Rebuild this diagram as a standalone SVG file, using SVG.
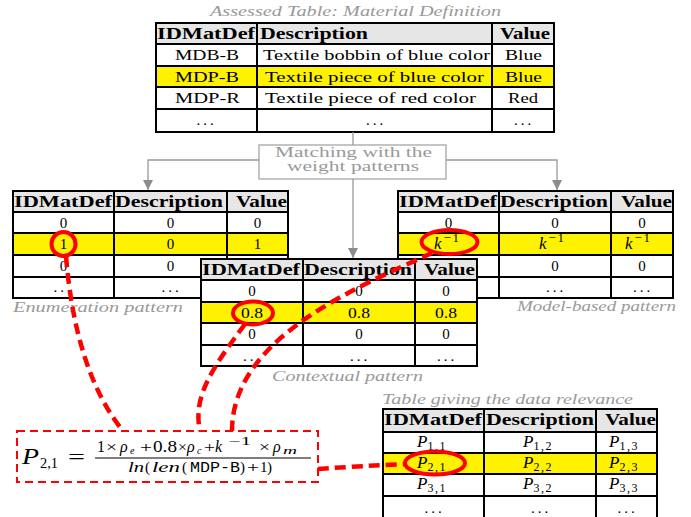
<svg xmlns="http://www.w3.org/2000/svg" width="691" height="517" viewBox="0 0 691 517" font-family="'Liberation Serif', serif" font-size="15">
<defs>
<style>
text{fill:#000}
.b{font-weight:bold;font-size:16px}
.m{text-anchor:middle}
.e{text-anchor:end}
.i{font-style:italic}
.lab{font-style:italic;fill:#999}
.gt{fill:#999;font-size:14px}
.bg{fill:#fff}
.hd{fill:#e6e6e6}
.yl{fill:#fff200}
.grid{stroke:#000;stroke-width:2;fill:none}
.gl{stroke:#999;stroke-width:1.3;fill:none}
.red{stroke:#f00;stroke-width:4.5;stroke-dasharray:11 6;fill:none}
.rc{stroke:#f00;stroke-width:4;fill:none}
.mono{font-family:"Liberation Mono",monospace;font-size:14px}
.sub{font-size:10px}
</style>
<marker id="ah" viewBox="0 0 10 10" refX="10" refY="5" markerWidth="10" markerHeight="10" markerUnits="userSpaceOnUse" orient="auto"><path d="M0,0 L10,5 L0,10 z" fill="#8c8c8c"/></marker>
</defs>
<rect width="691" height="517" fill="#fff"/>

<g id="assessed-table">
<text class="lab" x="210" y="16" textLength="291" lengthAdjust="spacingAndGlyphs">Assessed Table: Material Definition</text>
<rect class="bg" x="156" y="23" width="398" height="109"/>
<rect class="hd" x="156" y="23" width="398" height="21"/>
<rect class="yl" x="156" y="66" width="398" height="21"/>
<path class="grid" d="M156,23H554V132H156Z M156,44H554 M156,66H554 M156,87H554 M156,109H554 M257,23V132 M492,23V132"/>
<text class="b" x="157" y="39" textLength="98" lengthAdjust="spacingAndGlyphs">IDMatDef</text>
<text class="b" x="260" y="39" textLength="108" lengthAdjust="spacingAndGlyphs">Description</text>
<text class="b" x="500" y="39" textLength="50" lengthAdjust="spacingAndGlyphs">Value</text>
<text x="175" y="60" textLength="64" lengthAdjust="spacingAndGlyphs">MDB-B</text>
<text x="263" y="60" textLength="227" lengthAdjust="spacingAndGlyphs">Textile bobbin of blue color</text>
<text x="505" y="60" textLength="37" lengthAdjust="spacingAndGlyphs">Blue</text>
<text x="175" y="82" textLength="64" lengthAdjust="spacingAndGlyphs">MDP-B</text>
<text x="265" y="82" textLength="219" lengthAdjust="spacingAndGlyphs">Textile piece of blue color</text>
<text x="505" y="82" textLength="37" lengthAdjust="spacingAndGlyphs">Blue</text>
<text x="175" y="103" textLength="65" lengthAdjust="spacingAndGlyphs">MDP-R</text>
<text x="265" y="103" textLength="211" lengthAdjust="spacingAndGlyphs">Textile piece of red color</text>
<text x="508" y="103" textLength="30" lengthAdjust="spacingAndGlyphs">Red</text>
<text class="m" x="206.5" y="125" letter-spacing="3">...</text>
<text class="m" x="376" y="125" letter-spacing="3">...</text>
<text class="m" x="524" y="125" letter-spacing="3">...</text>
</g>

<g id="matching">
<rect x="259" y="145" width="187" height="34" fill="#fff" stroke="#a6a6a6" stroke-width="1.3"/>
<text class="gt" x="275" y="157" textLength="157" lengthAdjust="spacingAndGlyphs">Matching with the</text>
<text class="gt" x="287" y="171" textLength="132" lengthAdjust="spacingAndGlyphs">weight patterns</text>
</g>

<g id="enumeration-pattern">
<rect class="bg" x="13" y="191" width="275" height="107"/>
<rect class="hd" x="13" y="191" width="275" height="21"/>
<rect class="yl" x="13" y="233" width="275" height="22"/>
<path class="grid" d="M13,191H288V298H13Z M13,212H288 M13,233H288 M13,255H288 M13,277H288 M114,191V298 M227,191V298"/>
<text class="b" x="14" y="207" textLength="98" lengthAdjust="spacingAndGlyphs">IDMatDef</text>
<text class="b" x="115" y="207" textLength="108" lengthAdjust="spacingAndGlyphs">Description</text>
<text class="b e" x="287" y="207" textLength="51" lengthAdjust="spacingAndGlyphs">Value</text>
<text class="m" x="63.5" y="228">0</text><text class="m" x="170.5" y="228">0</text><text class="m" x="257.5" y="228">0</text>
<text class="m" x="63.5" y="249">1</text><text class="m" x="170.5" y="249">0</text><text class="m" x="257.5" y="249">1</text>
<text class="m" x="63.5" y="271">0</text><text class="m" x="170.5" y="271">0</text>
<text class="m" x="63.5" y="292" letter-spacing="3">...</text><text class="m" x="171.5" y="292" letter-spacing="3">...</text>
<text class="lab" x="13" y="312" textLength="170" lengthAdjust="spacingAndGlyphs">Enumeration pattern</text>
</g>

<g id="model-based-pattern">
<rect class="bg" x="398" y="191" width="275" height="107"/>
<rect class="hd" x="398" y="191" width="275" height="21"/>
<rect class="yl" x="398" y="233" width="275" height="22"/>
<path class="grid" d="M398,191H673V298H398Z M398,212H673 M398,233H673 M398,255H673 M398,277H673 M499,191V298 M611,191V298"/>
<text class="b" x="399" y="207" textLength="98" lengthAdjust="spacingAndGlyphs">IDMatDef</text>
<text class="b" x="500" y="207" textLength="108" lengthAdjust="spacingAndGlyphs">Description</text>
<text class="b e" x="672" y="207" textLength="51" lengthAdjust="spacingAndGlyphs">Value</text>
<text class="m" x="448.5" y="228">0</text><text class="m" x="555" y="228">0</text><text class="m" x="642" y="228">0</text>
<text x="434" y="249"><tspan class="i" font-size="17">k</tspan><tspan font-size="13" dx="2" dy="-7" letter-spacing="1.5">−1</tspan></text>
<text x="539" y="249"><tspan class="i" font-size="17">k</tspan><tspan font-size="13" dx="2" dy="-7" letter-spacing="1.5">−1</tspan></text>
<text x="625" y="249"><tspan class="i" font-size="17">k</tspan><tspan font-size="13" dx="2" dy="-7" letter-spacing="1.5">−1</tspan></text>
<text class="m" x="555" y="271">0</text><text class="m" x="642" y="271">0</text>
<text class="m" x="556" y="292" letter-spacing="3">...</text><text class="m" x="643" y="292" letter-spacing="3">...</text>
<text class="lab e" x="676" y="311" textLength="159" lengthAdjust="spacingAndGlyphs">Model-based pattern</text>
</g>

<g id="contextual-pattern">
<rect class="bg" x="201" y="259" width="276" height="107"/>
<rect class="hd" x="201" y="259" width="276" height="21"/>
<rect class="yl" x="201" y="302" width="276" height="21"/>
<path class="grid" d="M201,259H477V366H201Z M201,280H477 M201,302H477 M201,323H477 M201,345H477 M303,259V366 M415,259V366"/>
<text class="b" x="202" y="275" textLength="98" lengthAdjust="spacingAndGlyphs">IDMatDef</text>
<text class="b" x="304" y="275" textLength="108" lengthAdjust="spacingAndGlyphs">Description</text>
<text class="b e" x="475" y="275" textLength="51" lengthAdjust="spacingAndGlyphs">Value</text>
<text class="m" x="252" y="296">0</text><text class="m" x="359" y="296">0</text><text class="m" x="446" y="296">0</text>
<text class="m" x="252" y="318" textLength="22" lengthAdjust="spacingAndGlyphs">0.8</text><text class="m" x="359" y="318" textLength="22" lengthAdjust="spacingAndGlyphs">0.8</text><text class="m" x="446" y="318" textLength="22" lengthAdjust="spacingAndGlyphs">0.8</text>
<text class="m" x="252" y="339">0</text><text class="m" x="359" y="339">0</text><text class="m" x="446" y="339">0</text>
<text class="m" x="253" y="361" letter-spacing="3">...</text><text class="m" x="360" y="361" letter-spacing="3">...</text><text class="m" x="447" y="361" letter-spacing="3">...</text>
<text class="lab" x="272" y="381" textLength="151" lengthAdjust="spacingAndGlyphs">Contextual pattern</text>
</g>

<g id="relevance-table">
<text class="lab" x="382" y="404" textLength="251" lengthAdjust="spacingAndGlyphs">Table giving the data relevance</text>
<rect class="bg" x="383" y="409" width="274" height="110"/>
<rect class="hd" x="383" y="409" width="274" height="23"/>
<rect class="yl" x="383" y="453" width="274" height="21"/>
<path class="grid" d="M383,520V409H657V520 M383,432H657 M383,453H657 M383,474H657 M383,496H657 M484,409V520 M596,409V520"/>
<text class="b" x="384" y="425" textLength="98" lengthAdjust="spacingAndGlyphs">IDMatDef</text>
<text class="b" x="486" y="425" textLength="108" lengthAdjust="spacingAndGlyphs">Description</text>
<text class="b e" x="656" y="425" textLength="51" lengthAdjust="spacingAndGlyphs">Value</text>
<text x="417" y="447"><tspan class="i" font-size="17">P</tspan><tspan font-size="12" dy="3" letter-spacing="1.5">1,1</tspan></text>
<text x="523" y="447"><tspan class="i" font-size="17">P</tspan><tspan font-size="12" dy="3" letter-spacing="1.5">1,2</tspan></text>
<text x="609" y="447"><tspan class="i" font-size="17">P</tspan><tspan font-size="12" dy="3" letter-spacing="1.5">1,3</tspan></text>
<text x="417" y="468"><tspan class="i" font-size="17">P</tspan><tspan font-size="12" dy="3" letter-spacing="1.5">2,1</tspan></text>
<text x="523" y="468"><tspan class="i" font-size="17">P</tspan><tspan font-size="12" dy="3" letter-spacing="1.5">2,2</tspan></text>
<text x="609" y="468"><tspan class="i" font-size="17">P</tspan><tspan font-size="12" dy="3" letter-spacing="1.5">2,3</tspan></text>
<text x="417" y="489"><tspan class="i" font-size="17">P</tspan><tspan font-size="12" dy="3" letter-spacing="1.5">3,1</tspan></text>
<text x="523" y="489"><tspan class="i" font-size="17">P</tspan><tspan font-size="12" dy="3" letter-spacing="1.5">3,2</tspan></text>
<text x="609" y="489"><tspan class="i" font-size="17">P</tspan><tspan font-size="12" dy="3" letter-spacing="1.5">3,3</tspan></text>
<text class="m" x="434.5" y="513" letter-spacing="3">...</text><text class="m" x="541" y="513" letter-spacing="3">...</text><text class="m" x="627.5" y="513" letter-spacing="3">...</text>
</g>

<g id="formula">
<rect x="17" y="431" width="301" height="51" fill="#fff" stroke="#f00" stroke-width="2" stroke-dasharray="8 5"/>
<text class="i" x="22" y="464" font-size="24" textLength="17" lengthAdjust="spacingAndGlyphs">P</text>
<text x="40" y="468" font-size="15" textLength="18" lengthAdjust="spacingAndGlyphs">2,1</text>
<text x="68" y="464" font-size="22" textLength="17" lengthAdjust="spacingAndGlyphs">=</text>
<line x1="95" y1="458" x2="311" y2="458" stroke="#000" stroke-width="1.2"/>
<text x="97" y="452" font-size="16">1</text>
<text x="106" y="452" textLength="11" lengthAdjust="spacingAndGlyphs">×</text>
<text class="i" x="120" y="452" font-size="16">ρ</text>
<text class="i sub" x="130" y="454">e</text>
<text x="140" y="452" textLength="12" lengthAdjust="spacingAndGlyphs">+</text>
<text x="153" y="452" font-size="16" textLength="24" lengthAdjust="spacingAndGlyphs">0.8</text>
<text x="178" y="452" textLength="9" lengthAdjust="spacingAndGlyphs">×</text>
<text class="i" x="187" y="452" font-size="16">ρ</text>
<text class="i sub" x="197" y="454">c</text>
<text x="204" y="452" textLength="11" lengthAdjust="spacingAndGlyphs">+</text>
<text class="i" x="215" y="452" font-size="16">k</text>
<text x="229" y="445" font-size="12" textLength="22" lengthAdjust="spacingAndGlyphs">−1</text>
<text x="259" y="452" textLength="11" lengthAdjust="spacingAndGlyphs">×</text>
<text class="i" x="273" y="452" font-size="16">ρ</text>
<text class="i sub" x="283" y="454" textLength="14" lengthAdjust="spacingAndGlyphs">m</text>
<text class="i" x="128" y="472" font-size="15" textLength="16" lengthAdjust="spacingAndGlyphs">ln</text>
<text x="145" y="472" font-size="15">(</text>
<text class="i" x="152" y="472" font-size="15" textLength="28" lengthAdjust="spacingAndGlyphs">len</text>
<text x="182" y="472" font-size="15">(</text>
<text class="mono" x="190" y="472" textLength="50" lengthAdjust="spacingAndGlyphs">MDP-B</text>
<text x="240" y="472" font-size="15">)</text>
<text x="247" y="472" textLength="12" lengthAdjust="spacingAndGlyphs">+</text>
<text x="260" y="472" font-size="15">1</text>
<text x="267" y="472" font-size="15">)</text>
</g>

<g id="connectors">
<path class="gl" d="M353,132V145"/>
<path class="gl" d="M259,160H148V190" marker-end="url(#ah)"/>
<path class="gl" d="M446,160H557V190" marker-end="url(#ah)"/>
<path class="gl" d="M353,179V258" marker-end="url(#ah)"/>
<ellipse class="rc" cx="63.5" cy="244" rx="12" ry="12"/>
<ellipse class="rc" cx="253" cy="313" rx="20" ry="11.5"/>
<ellipse class="rc" cx="449.5" cy="242" rx="28" ry="12"/>
<ellipse class="rc" cx="435" cy="463" rx="30" ry="11.5"/>
<path class="red" d="M66,256 C72,330 90,390 123,431"/>
<path class="red" d="M245,324 C215,365 192,395 200,431"/>
<path class="red" d="M432,253 C350,290 232,340 232,431"/>
<path class="red" d="M318,469 Q360,466 406,464"/>
</g>
</svg>
